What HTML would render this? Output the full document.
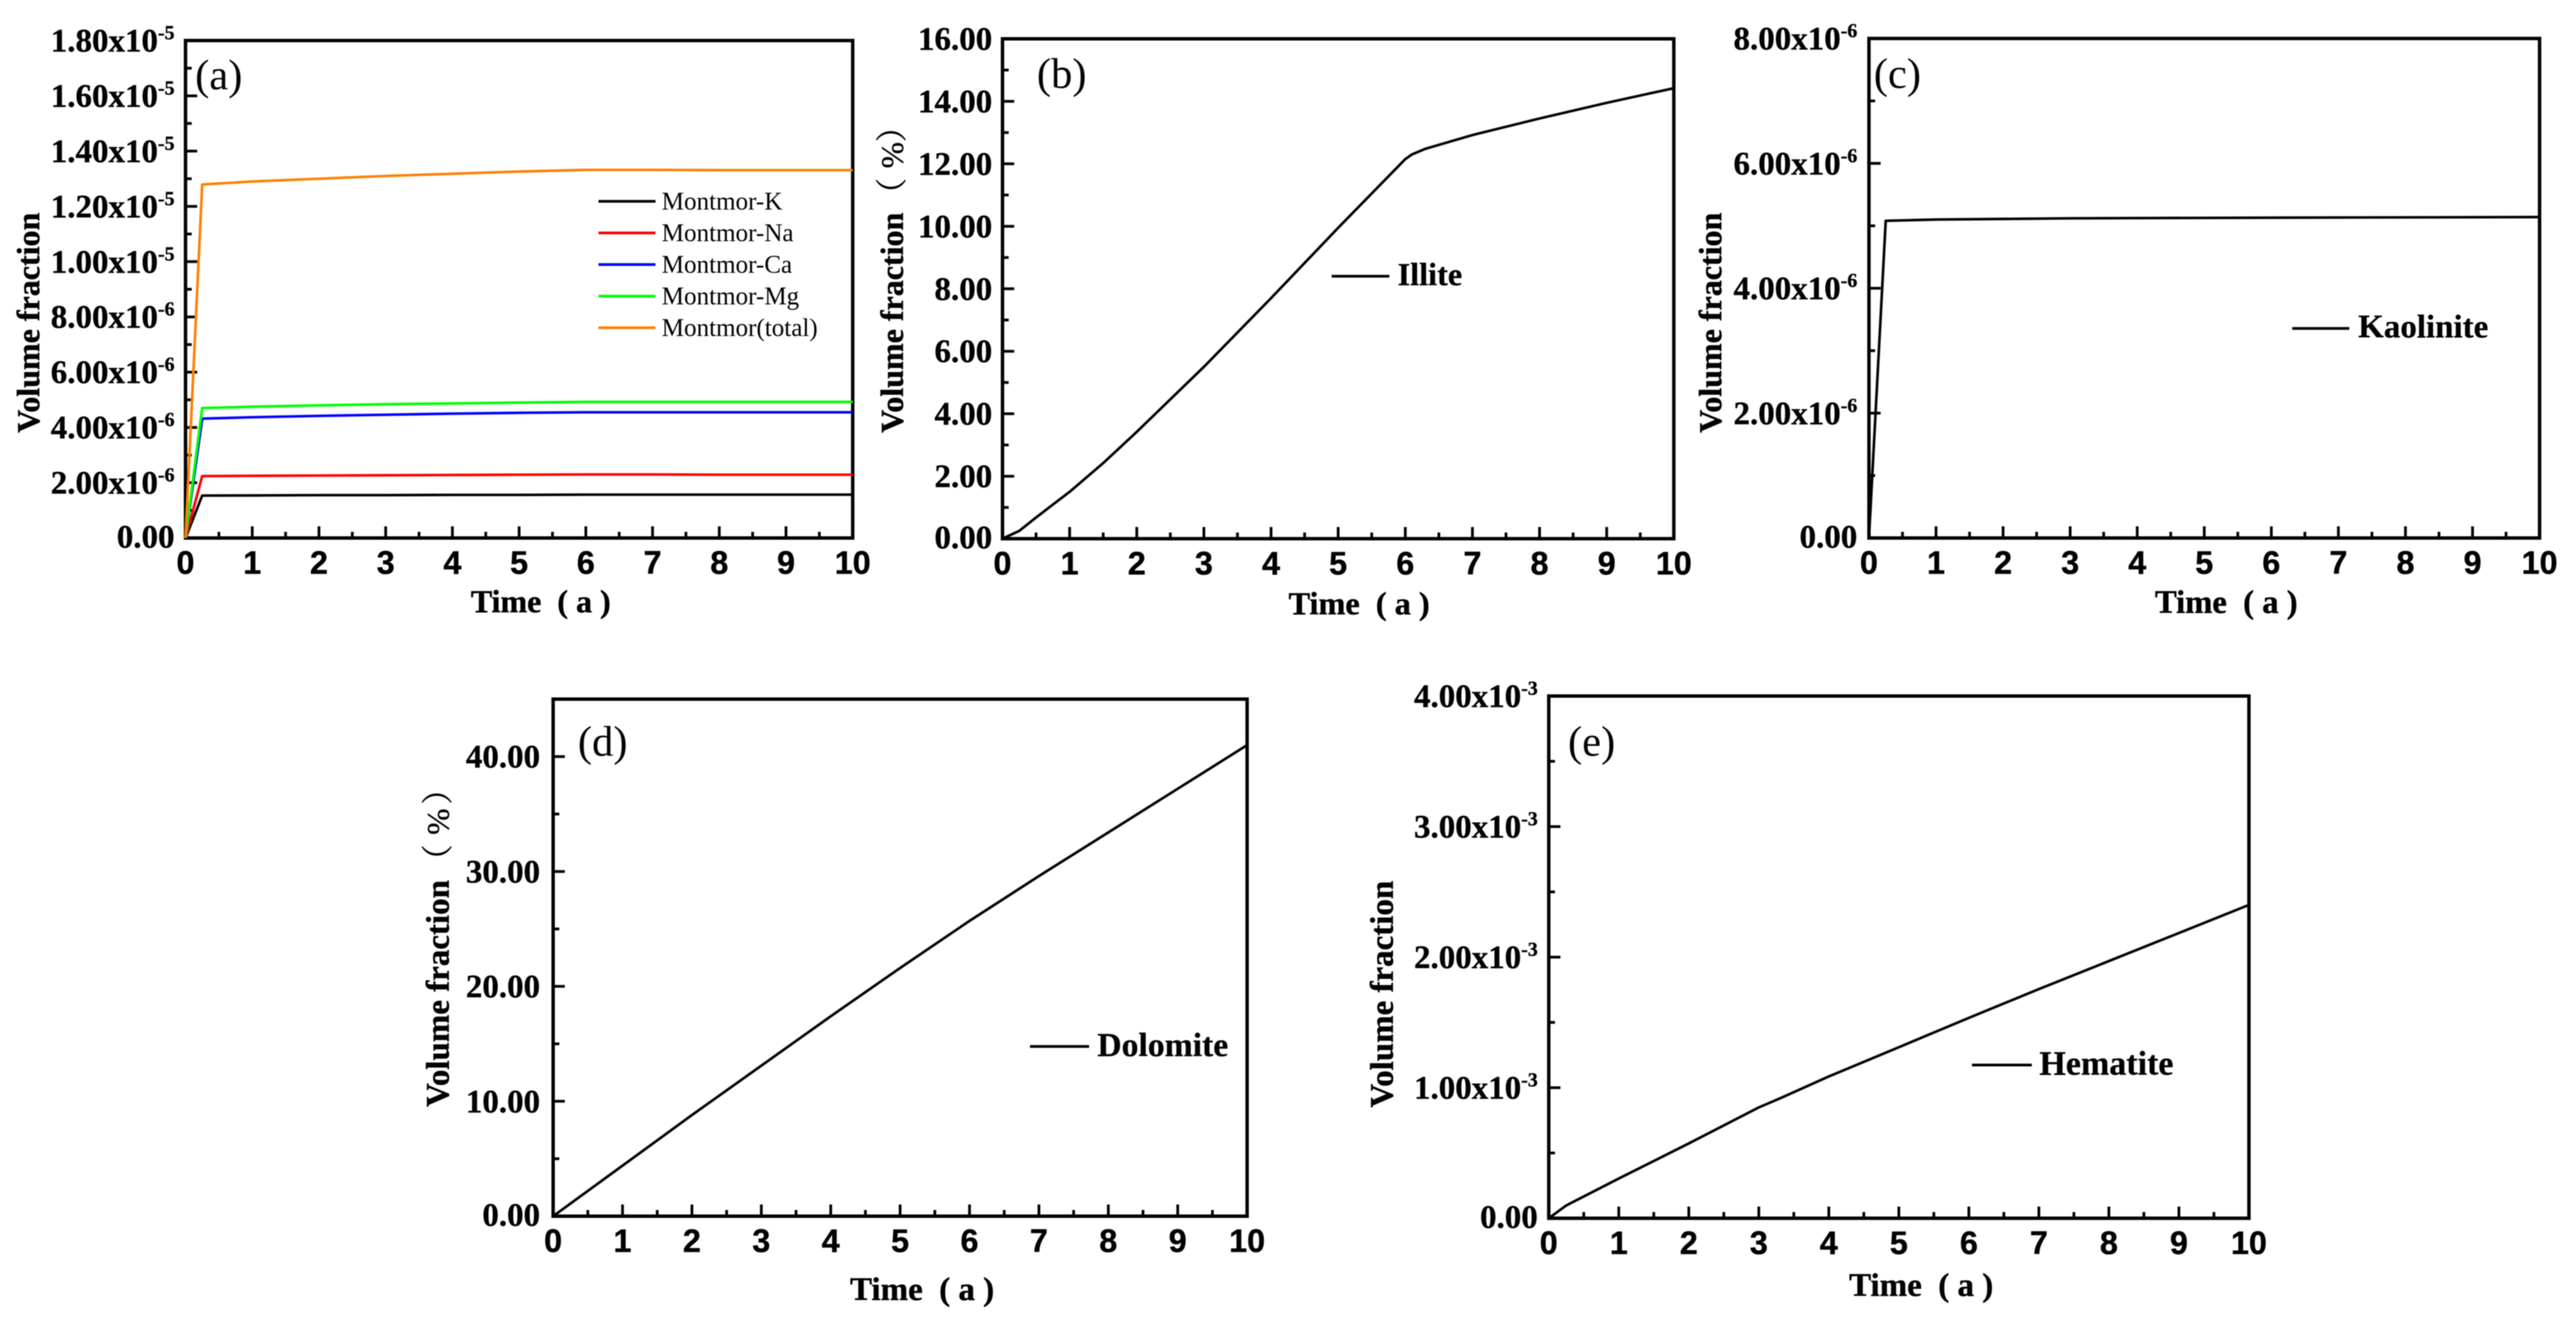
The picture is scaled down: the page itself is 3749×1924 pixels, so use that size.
<!DOCTYPE html>
<html lang="en">
<head>
<meta charset="utf-8">
<title>Volume fraction over time for five minerals</title>
<style>
  html, body { margin: 0; padding: 0; background: #fff; }
  #figure { display: block; width: 3749px; height: 1924px; filter: blur(0.7px); }
  text { font-family: "Liberation Serif", "Noto Serif CJK SC", serif; fill: #000; white-space: pre; }
  .tick { font-size: 48px; font-weight: bold; stroke: #000; stroke-width: 0.5px; }
  .xtick { font-family: "Liberation Sans", sans-serif; font-size: 47px; font-weight: bold; stroke: #000; stroke-width: 0.6px; }
  .title { font-size: 46.6px; font-weight: bold; stroke: #000; stroke-width: 0.6px; }
  .title-big { font-size: 48px; font-weight: bold; stroke: #000; stroke-width: 0.6px; }
  .unit { font-size: 46px; stroke: #000; stroke-width: 0.5px; }
  .tag { font-size: 62px; }
  .leg { font-size: 36.5px; }
  .legb { font-weight: bold; stroke: #000; stroke-width: 0.4px; }
</style>
</head>
<body>
<svg id="figure" xmlns="http://www.w3.org/2000/svg" width="3749" height="1924" viewBox="0 0 3749 1924">
  <rect x="0" y="0" width="3749" height="1924" fill="#fff"/>

  <g id="panel-a"></g>
  <g id="panel-b"></g>
  <g id="panel-c"></g>
  <g id="panel-d"></g>
  <g id="panel-e"></g>

  <g>
    <text class="title" transform="translate(57,630) rotate(-90)">Volume fraction</text>
    <text class="title" x="787" y="891" text-anchor="middle">Time  ( a )</text>

    <text class="title" transform="translate(1314,630) rotate(-90)">Volume fraction</text>
    <text class="unit" transform="translate(1314,305) rotate(-90)">（</text>
    <text class="unit" transform="translate(1314,245) rotate(-90)">%</text>
    <text class="unit" transform="translate(1314,207) rotate(-90)">）</text>
    <text class="title" x="1978" y="894" text-anchor="middle" style="font-size:47px">Time  ( a )</text>

    <text class="title" transform="translate(2505,630) rotate(-90)">Volume fraction</text>
    <text class="title" x="3240" y="892" text-anchor="middle" style="font-size:47.5px">Time  ( a )</text>

    <text class="title-big" transform="translate(653,1611) rotate(-90)">Volume fraction</text>
    <text class="unit" transform="translate(653,1275) rotate(-90)">（</text>
    <text class="unit" transform="translate(653,1215) rotate(-90)">%</text>
    <text class="unit" transform="translate(653,1171) rotate(-90)">）</text>
    <text class="title-big" x="1342" y="1892" text-anchor="middle">Time  ( a )</text>

    <text class="title-big" transform="translate(2027,1612) rotate(-90)">Volume fraction</text>
    <text class="title-big" x="2796" y="1886" text-anchor="middle">Time  ( a )</text>
  </g>

  <g>
    <text class="tag" x="284" y="130">(a)</text>
    <text class="tag" x="1509" y="128">(b)</text>
    <text class="tag" x="2727" y="128">(c)</text>
    <text class="tag" x="841" y="1100">(d)</text>
    <text class="tag" x="2282" y="1100">(e)</text>
  </g>

  <g>
    <line x1="871" x2="954" y1="293" y2="293" stroke="#000" stroke-width="4"/>
    <text class="leg" x="963" y="305">Montmor-K</text>
    <line x1="871" x2="954" y1="339" y2="339" stroke="#f00" stroke-width="4"/>
    <text class="leg" x="963" y="351">Montmor-Na</text>
    <line x1="871" x2="954" y1="385" y2="385" stroke="#00f" stroke-width="4"/>
    <text class="leg" x="963" y="397">Montmor-Ca</text>
    <line x1="871" x2="954" y1="431" y2="431" stroke="#0f0" stroke-width="4"/>
    <text class="leg" x="963" y="443">Montmor-Mg</text>
    <line x1="871" x2="954" y1="477" y2="477" stroke="#ff8000" stroke-width="4"/>
    <text class="leg" x="963" y="489">Montmor(total)</text>
  </g>

  <g>
    <line x1="1938" x2="2022" y1="402" y2="402" stroke="#000" stroke-width="4"/>
    <text class="legb" x="2034" y="415" style="font-size:47px">Illite</text>
    <line x1="3336" x2="3419" y1="478" y2="478" stroke="#000" stroke-width="4"/>
    <text class="legb" x="3432" y="491" style="font-size:48px">Kaolinite</text>
    <line x1="1499" x2="1585" y1="1523" y2="1523" stroke="#000" stroke-width="4"/>
    <text class="legb" x="1597" y="1537" style="font-size:49px">Dolomite</text>
    <line x1="2870" x2="2957" y1="1550" y2="1550" stroke="#000" stroke-width="4"/>
    <text class="legb" x="2968" y="1564" style="font-size:49.5px">Hematite</text>
  </g>
</svg>

<script>
// ---- shared x axis ----
const xTickLabels = ["0","1","2","3","4","5","6","7","8","9","10"];

// ---- panel (a): values in units of 1e-5 ----
const timeA = [0, 0.25, 1, 2, 3, 4, 5, 6, 7, 8, 9, 10];
const montmorK = [0, 0.1536, 0.154, 0.155, 0.155, 0.156, 0.156, 0.157, 0.157, 0.157, 0.157, 0.157];
const montmorNa = [0, 0.224, 0.225, 0.226, 0.227, 0.228, 0.229, 0.230, 0.230, 0.229, 0.229, 0.229];
const montmorCa = [0, 0.432, 0.437, 0.442, 0.446, 0.450, 0.453, 0.455, 0.455, 0.455, 0.455, 0.455];
const montmorMg = [0, 0.470, 0.475, 0.480, 0.484, 0.487, 0.490, 0.4925, 0.4925, 0.4925, 0.4925, 0.4925];
const montmorTotal = [0, 1.279, 1.290, 1.300, 1.310, 1.318, 1.326, 1.332, 1.332, 1.331, 1.331, 1.331];
const yTicksA = [0, 0.2, 0.4, 0.6, 0.8, 1.0, 1.2, 1.4, 1.6, 1.8];
const yLabelsA = ["0.00","2.00x10","4.00x10","6.00x10","8.00x10","1.00x10","1.20x10","1.40x10","1.60x10","1.80x10"];
const yExpsA = ["","-6","-6","-6","-6","-5","-5","-5","-5","-5"];

// ---- panel (b): percent ----
const timeB = [0, 0.25, 0.5, 1, 1.5, 2, 3, 4, 5, 6, 6.1, 6.3, 7, 8, 9, 10];
const illite = [0, 0.25, 0.68, 1.5, 2.42, 3.42, 5.5, 7.7, 9.95, 12.15, 12.3, 12.48, 12.92, 13.45, 13.95, 14.42];
const yTicksB = [0, 2, 4, 6, 8, 10, 12, 14, 16];
const yLabelsB = ["0.00","2.00","4.00","6.00","8.00","10.00","12.00","14.00","16.00"];
const yExpsB = ["","","","","","","","",""];

// ---- panel (c): units of 1e-6 ----
const timeC = [0, 0.25, 1, 3, 6, 10];
const kaolinite = [0, 5.08, 5.10, 5.12, 5.13, 5.14];
const yTicksC = [0, 2, 4, 6, 8];
const yLabelsC = ["0.00","2.00x10","4.00x10","6.00x10","8.00x10"];
const yExpsC = ["","-6","-6","-6","-6"];

// ---- panel (d): percent ----
const timeD = [0, 1, 2, 3, 4, 5, 6, 7, 8, 9, 10];
const dolomite = [0, 4.4, 8.8, 13.1, 17.4, 21.6, 25.7, 29.6, 33.4, 37.2, 41.0];
const yTicksD = [0, 10, 20, 30, 40];
const yLabelsD = ["0.00","10.00","20.00","30.00","40.00"];
const yExpsD = ["","","","",""];

// ---- panel (e): units of 1e-3 ----
const timeE = [0, 0.25, 1, 2, 3, 3.3, 4, 5, 6, 7, 8, 9, 10];
const hematite = [0, 0.098, 0.304, 0.573, 0.849, 0.918, 1.086, 1.31, 1.535, 1.755, 1.97, 2.185, 2.40];
const yTicksE = [0, 1, 2, 3, 4];
const yLabelsE = ["0.00","1.00x10","2.00x10","3.00x10","4.00x10"];
const yExpsE = ["","-3","-3","-3","-3"];

const NS = "http://www.w3.org/2000/svg";

function drawPanel(id, box, yMax, yMinorStep, yTicks, yLabels, yExps, seriesList) {
  const root = document.getElementById(id);
  const sx = v => box.left + (v / 10) * (box.right - box.left);
  const sy = v => box.bottom - (v / yMax) * (box.bottom - box.top);

  const frame = document.createElementNS(NS, "rect");
  
  
  frame.setAttribute("x", box.left);
  frame.setAttribute("y", box.top);
  frame.setAttribute("width", box.right - box.left);
  frame.setAttribute("height", box.bottom - box.top);
  frame.setAttribute("fill", "none");
  frame.setAttribute("stroke", "#000");
  frame.setAttribute("stroke-width", "5");
  root.appendChild(frame);

  // x ticks: major at each label, minor half-way between
  xTickLabels.forEach((label, i) => {
    const v = Number(label);
    const major = document.createElementNS(NS, "line");
    
    
    major.setAttribute("x1", sx(v));
    major.setAttribute("x2", sx(v));
    major.setAttribute("y1", box.bottom);
    major.setAttribute("y2", box.bottom - 17);
    major.setAttribute("stroke", "#000");
    major.setAttribute("stroke-width", "4");
    root.appendChild(major);

    if (i < xTickLabels.length - 1) {
      const minor = document.createElementNS(NS, "line");
      
      
      minor.setAttribute("x1", sx(v + 0.5));
      minor.setAttribute("x2", sx(v + 0.5));
      minor.setAttribute("y1", box.bottom);
      minor.setAttribute("y2", box.bottom - 9);
      minor.setAttribute("stroke", "#000");
      minor.setAttribute("stroke-width", "4");
      root.appendChild(minor);
    }

    const txt = document.createElementNS(NS, "text");
    
    
    txt.setAttribute("class", "xtick");
    txt.setAttribute("x", sx(v));
    txt.setAttribute("y", box.bottom + 52);
    txt.setAttribute("text-anchor", "middle");
    txt.textContent = label;
    root.appendChild(txt);
  });

  // y minor ticks
  for (let v = yMinorStep; v <= yMax + 1e-9; v += 2 * yMinorStep) {
    const minor = document.createElementNS(NS, "line");
    
    
    minor.setAttribute("x1", box.left);
    minor.setAttribute("x2", box.left + 9);
    minor.setAttribute("y1", sy(v));
    minor.setAttribute("y2", sy(v));
    minor.setAttribute("stroke", "#000");
    minor.setAttribute("stroke-width", "4");
    root.appendChild(minor);
  }

  // y major ticks and labels
  yTicks.forEach((v, i) => {
    const major = document.createElementNS(NS, "line");
    
    
    major.setAttribute("x1", box.left);
    major.setAttribute("x2", box.left + 17);
    major.setAttribute("y1", sy(v));
    major.setAttribute("y2", sy(v));
    major.setAttribute("stroke", "#000");
    major.setAttribute("stroke-width", "4");
    root.appendChild(major);

    const txt = document.createElementNS(NS, "text");
    
    
    txt.setAttribute("class", "tick");
    txt.setAttribute("x", box.left - box.labelGap);
    txt.setAttribute("y", sy(v) + (i === 0 ? 14 : 16));
    txt.setAttribute("text-anchor", "end");
    txt.textContent = yLabels[i];
    if (yExps[i]) {
      const sup = document.createElementNS(NS, "tspan");
      
      
      sup.setAttribute("font-size", "29");
      sup.setAttribute("dy", "-18");
      sup.textContent = yExps[i];
      txt.appendChild(sup);
    }
    root.appendChild(txt);
  });

  // data series
  seriesList.forEach(s => {
    const line = document.createElementNS(NS, "polyline");
    
    
    line.setAttribute("points", s.y.map((v, i) => sx(s.x[i]) + "," + sy(v)).join(" "));
    line.setAttribute("fill", "none");
    line.setAttribute("stroke", s.color);
    line.setAttribute("stroke-width", "3.8");
    line.setAttribute("stroke-linejoin", "round");
    root.appendChild(line);
  });
}

drawPanel("panel-a", {left: 270, right: 1241, top: 59, bottom: 783, labelGap: 16}, 1.8, 0.1,
  yTicksA, yLabelsA, yExpsA, [
    {name: "montmor-k", x: timeA, y: montmorK, color: "#000"},
    {name: "montmor-na", x: timeA, y: montmorNa, color: "#f00"},
    {name: "montmor-ca", x: timeA, y: montmorCa, color: "#00f"},
    {name: "montmor-mg", x: timeA, y: montmorMg, color: "#0f0"},
    {name: "montmor-total", x: timeA, y: montmorTotal, color: "#ff8000"}
  ]);
drawPanel("panel-b", {left: 1459, right: 2436, top: 56.5, bottom: 784, labelGap: 15}, 16, 1,
  yTicksB, yLabelsB, yExpsB, [{name: "illite", x: timeB, y: illite, color: "#000"}]);
drawPanel("panel-c", {left: 2720, right: 3696, top: 56, bottom: 783, labelGap: 17}, 8, 1,
  yTicksC, yLabelsC, yExpsC, [{name: "kaolinite", x: timeC, y: kaolinite, color: "#000"}]);
drawPanel("panel-d", {left: 805, right: 1815, top: 1017.5, bottom: 1770, labelGap: 19}, 45, 5,
  yTicksD, yLabelsD, yExpsD, [{name: "dolomite", x: timeD, y: dolomite, color: "#000"}]);
drawPanel("panel-e", {left: 2254, right: 3273, top: 1013, bottom: 1773, labelGap: 16}, 4, 0.5,
  yTicksE, yLabelsE, yExpsE, [{name: "hematite", x: timeE, y: hematite, color: "#000"}]);
</script>
</body>
</html>
